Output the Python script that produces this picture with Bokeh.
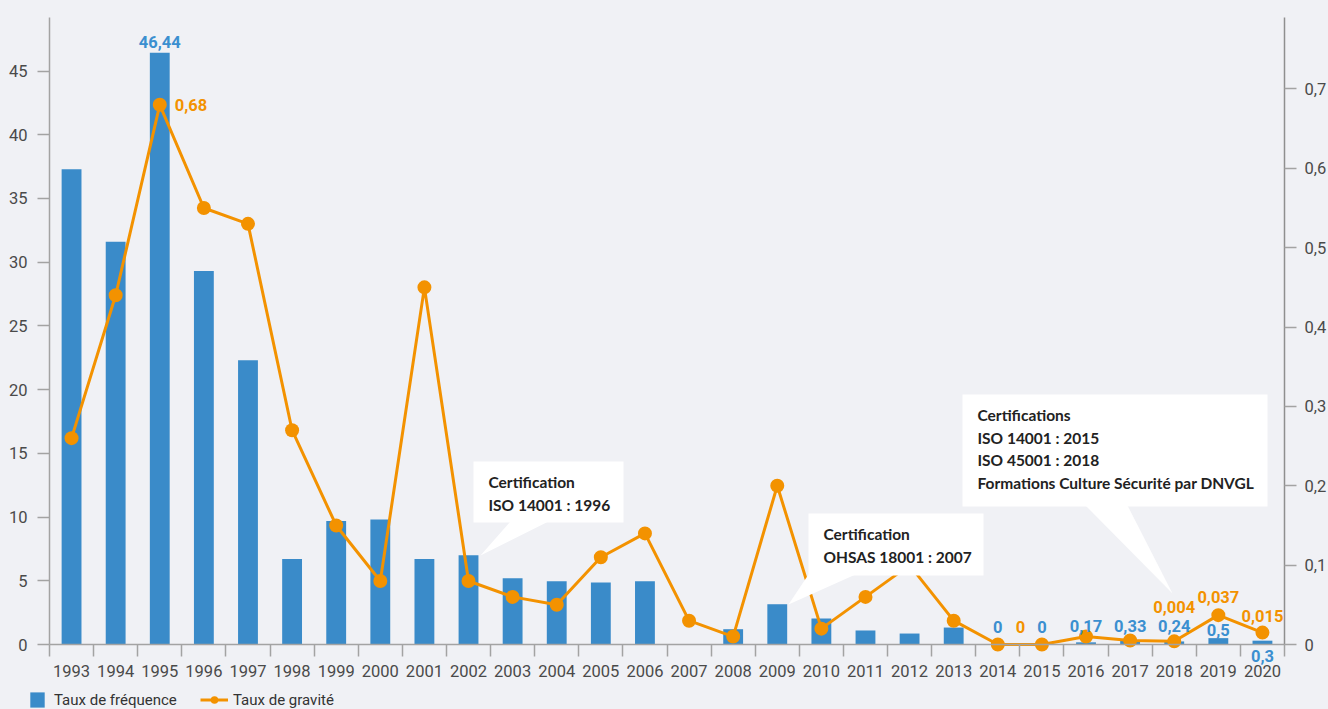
from bokeh.plotting import figure
from bokeh.models import (Range1d, LinearAxis, FixedTicker, CustomJSTickFormatter, Legend, LegendItem,
                          Label, BoxAnnotation, PolyAnnotation, GlobalInlineStyleSheet, ColumnDataSource)
from bokeh.embed import file_html
from bokeh.resources import INLINE

# ---------------- data ----------------
years = list(range(1993, 2021))
freq = [37.3, 31.6, 46.44, 29.3, 22.3, 6.7, 9.7, 9.8, 6.7, 7.0,
        5.2, 4.96, 4.87, 4.96, 0, 1.2, 3.16, 2.04, 1.1, 0.86,
        1.33, 0, 0, 0.17, 0.33, 0.24, 0.5, 0.3]
grav = [0.26, 0.44, 0.68, 0.55, 0.53, 0.27, 0.15, 0.08, 0.45, 0.08,
        0.06, 0.05, 0.11, 0.14, 0.03, 0.01, 0.2, 0.02, 0.06, 0.1,
        0.03, 0, 0, 0.01, 0.005, 0.004, 0.037, 0.015]
freq_labels = {1995: "46,44", 2014: "0", 2015: "0", 2016: "0,17", 2017: "0,33",
               2018: "0,24", 2019: "0,5", 2020: "0,3"}
grav_labels = {1995: "0,68", 2014: "0", 2018: "0,004", 2019: "0,037", 2020: "0,015"}
left_ticks = [0, 5, 10, 15, 20, 25, 30, 35, 40, 45]
right_ticks = [0, 0.1, 0.2, 0.3, 0.4, 0.5, 0.6, 0.7]
series_names = ["Taux de fréquence", "Taux de gravité"]
callout_texts = [
    ["Certification", "ISO 14001 : 1996"],
    ["Certification", "OHSAS 18001 : 2007"],
    ["Certifications", "ISO 14001 : 2015", "ISO 45001 : 2018", "Formations Culture Sécurité par DNVGL"],
]

# ---------------- style / geometry ----------------
BG = "#f0f1f5"
BLUE = "#3a8bc9"
ORANGE = "#f39200"
AX = "#a3a3a3"
TXT = "#4a4a4a"
FONT = "Roboto"
CFONT = "Lato"
TICK_SIZE = "16.5px"

W, H = 1328, 709
AX_L, AX_R, Y_TOP, Y_ZERO = 49, 1284, 17, 644     # axis box in pixels
LMAX, RMAX = 49.2, 0.79
X0, X1 = years[0] - 0.5, years[-1] + 0.5
sx = (AX_R - AX_L) / (X1 - X0)
ly = (Y_ZERO - Y_TOP) / LMAX
ry = (Y_ZERO - Y_TOP) / RMAX
x_start, x_end = X0 - AX_L / sx, X1 + (W - AX_R) / sx
l_start, l_end = -(H - Y_ZERO) / ly, LMAX + Y_TOP / ly
r_start, r_end = -(H - Y_ZERO) / ry, RMAX + Y_TOP / ry

def px_x(px):
    return x_start + px / sx

def px_y(py):
    return (Y_ZERO - py) / ly

p = figure(width=W, height=H, x_range=Range1d(x_start, x_end), y_range=Range1d(l_start, l_end),
           output_backend="svg", toolbar_location=None, min_border=0,
           background_fill_color=BG, border_fill_color=BG, outline_line_color=None)
p.stylesheets = [GlobalInlineStyleSheet(css=f"html,body{{background:{BG};overflow:hidden;}}")]
p.grid.visible = False
p.extra_y_ranges = {"grav": Range1d(r_start, r_end)}

# x axis (at zero)
xa = p.xaxis[0]
xa.fixed_location = 0
xa.bounds = (X0, X1)
xa.ticker = FixedTicker(ticks=years, minor_ticks=[y - 0.5 for y in years] + [years[-1] + 0.5])
xa.major_tick_out = 0
xa.major_tick_in = 0
xa.minor_tick_out = 12
xa.minor_tick_in = 0
xa.minor_tick_line_color = AX
xa.minor_tick_line_width = 1.5
xa.axis_line_color = AX
xa.axis_line_width = 1.5
xa.major_label_standoff = 8
xa.major_label_text_font = FONT
xa.major_label_text_font_size = TICK_SIZE
xa.major_label_text_color = TXT

# left axis
ya = p.yaxis[0]
ya.fixed_location = X0
ya.bounds = (0, LMAX)
ya.ticker = FixedTicker(ticks=left_ticks)
ya.major_tick_out = 12
ya.major_tick_in = 0
ya.minor_tick_line_color = None
ya.major_tick_line_color = AX
ya.major_tick_line_width = 1.5
ya.axis_line_color = AX
ya.axis_line_width = 1.5
ya.major_label_standoff = 10
ya.major_label_text_font = FONT
ya.major_label_text_font_size = TICK_SIZE
ya.major_label_text_color = TXT

# right axis
ra = LinearAxis(y_range_name="grav", ticker=FixedTicker(ticks=right_ticks), fixed_location=X1,
                bounds=(0, RMAX),
                formatter=CustomJSTickFormatter(code='return tick == 0 ? "0" : tick.toFixed(1).replace(".", ",");'))
ra.major_tick_out = 12
ra.major_tick_in = 0
ra.minor_tick_line_color = None
ra.major_tick_line_color = AX
ra.major_tick_line_width = 1.5
ra.axis_line_color = "#8f8f8f"
ra.axis_line_width = 1.5
ra.major_label_standoff = 8
ra.major_label_text_font = FONT
ra.major_label_text_font_size = TICK_SIZE
ra.major_label_text_color = TXT
p.add_layout(ra, "right")

# glyphs
src = ColumnDataSource(dict(year=years, freq=freq, grav=grav))
bars = p.vbar(x="year", top="freq", width=0.45, source=src, fill_color=BLUE, line_color=None)
gline = p.line("year", "grav", source=src, y_range_name="grav", line_color=ORANGE, line_width=3)
gdots = p.scatter("year", "grav", source=src, y_range_name="grav", size=14,
                  fill_color=ORANGE, line_color=None)

# callouts (white boxes with a pointer)
callout_geo = [
    dict(box=(473, 623, 461, 522), tail=[(510, 521), (548, 521), (480, 555)]),
    dict(box=(808, 983, 513, 575), tail=[(808, 574), (855, 574), (788, 604)]),
    dict(box=(962, 1267, 394, 506), tail=[(1085, 505), (1127, 505), (1172, 593)]),
]
for geo, lines in zip(callout_geo, callout_texts):
    l, r, t, b = geo["box"]
    p.add_layout(BoxAnnotation(left=px_x(l), right=px_x(r), top=px_y(t), bottom=px_y(b),
                               fill_color="white", fill_alpha=1, line_alpha=0))
    p.add_layout(PolyAnnotation(xs=[px_x(a) for a, _ in geo["tail"]], ys=[px_y(c) for _, c in geo["tail"]],
                                fill_color="white", fill_alpha=1, line_alpha=0))
    for i, txt in enumerate(lines):
        p.add_layout(Label(x=px_x(l + 15), y=px_y(t + 20.5 + 22.6 * i), text=txt,
                           text_font=CFONT, text_font_style="bold", text_font_size="15.5px",
                           text_color="#222222", text_align="left", text_baseline="alphabetic"))

# data labels
freq_off = {1995: (0, 11), 2014: (0, 18), 2015: (0, 18), 2016: (0, 16), 2017: (0, 14),
            2018: (0, 15), 2019: (0, 8), 2020: (0, -15)}
for yr, txt in freq_labels.items():
    i = years.index(yr)
    dx, dy = freq_off[yr]
    p.add_layout(Label(x=yr, y=freq[i], text=txt, x_offset=dx, y_offset=dy,
                       text_font=FONT, text_font_style="bold", text_font_size="16.5px",
                       text_color="#3b8fd0", text_align="center", text_baseline="middle"))

grav_off = {1995: (15, 0, "left"), 2014: (22.6, 18, "center"), 2018: (0, 34, "center"),
            2019: (0, 17.7, "center"), 2020: (0, 16.4, "center")}
for yr, txt in grav_labels.items():
    i = years.index(yr)
    dx, dy, al = grav_off[yr]
    p.add_layout(Label(x=yr, y=grav[i], y_range_name="grav", text=txt, x_offset=dx, y_offset=dy,
                       text_font=FONT, text_font_style="bold", text_font_size="16.5px",
                       text_color=ORANGE, text_align=al, text_baseline="middle"))

# legends (frame covers whole canvas, so locations are from the canvas bottom-left)
common = dict(padding=0, margin=0, spacing=0, background_fill_alpha=0, border_line_color=None,
              label_text_font=FONT, label_text_font_size="15px", label_text_color="#333333",
              glyph_height=19, label_height=19)
leg1 = Legend(items=[LegendItem(label=series_names[0], renderers=[bars])], location=(28, 0),
              glyph_width=18, label_standoff=8, **common)
leg2 = Legend(items=[LegendItem(label=series_names[1], renderers=[gline, gdots])], location=(200, 0),
              glyph_width=28, label_standoff=5, **common)
p.add_layout(leg1)
p.add_layout(leg2)

open("out.html", "w").write(file_html(p, INLINE))
